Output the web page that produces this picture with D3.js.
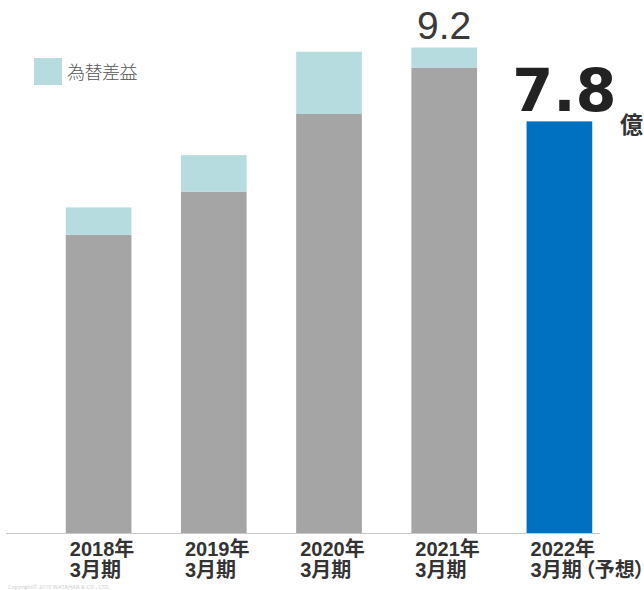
<!DOCTYPE html>
<html>
<head>
<meta charset="utf-8">
<script src="https://cdn.jsdelivr.net/npm/d3@7"></script>
<style>
  html, body { margin: 0; padding: 0; background: #fff; }
  svg { display: block; }
  .cat { font-feature-settings: "palt"; }
</style>
</head>
<body>
<svg id="chart" width="644" height="590"></svg>
<script>
// Fiscal periods (ending March) and label lines
const periods = ["2018", "2019", "2020", "2021", "2022"];
const labelLine1 = ["2018年", "2019年", "2020年", "2021年", "2022年"];
const labelLine2 = ["3月期", "3月期", "3月期", "3月期", "3月期（予想）"];

// Ordinary profit excluding forex gain, and forex gain (億円)
const baseValues = [5.65, 6.47, 7.94, 8.82, 7.8];
const forexValues = [0.52, 0.69, 1.18, 0.38, 0];
const isForecast = [false, false, false, false, true];

const legendLabel = "為替差益";
const unitLabel = "億";
const copyright = "Copyright© 2018 WATAHAN & CO., LTD.";

const svg = d3.select("#chart");

const x = d3.scaleBand()
  .domain(periods)
  .range([41, 617])
  .paddingInner(0.43)
  .paddingOuter(0.215);

const y = d3.scaleLinear()
  .domain([0, 9.2])
  .range([533, 47.5]);

const colBase = "#a5a5a5";
const colForex = "#b7dce0";
const colForecast = "#0070c0";

const data = periods.map((p, i) => ({
  p, base: baseValues[i], forex: forexValues[i], forecast: isForecast[i],
  l1: labelLine1[i], l2: labelLine2[i]
}));

// base bars
svg.append("g").selectAll("rect")
  .data(data)
  .join("rect")
  .attr("x", d => x(d.p))
  .attr("width", x.bandwidth())
  .attr("y", d => y(d.base))
  .attr("height", d => y(0) - y(d.base))
  .attr("fill", d => d.forecast ? colForecast : colBase);

// forex gain segments stacked on top
svg.append("g").selectAll("rect")
  .data(data.filter(d => d.forex > 0))
  .join("rect")
  .attr("x", d => x(d.p))
  .attr("width", x.bandwidth())
  .attr("y", d => y(d.base + d.forex))
  .attr("height", d => y(d.base) - y(d.base + d.forex))
  .attr("fill", colForex);

// baseline
svg.append("line")
  .attr("x1", 6).attr("x2", 600)
  .attr("y1", y(0) + 0.5).attr("y2", y(0) + 0.5)
  .attr("stroke", "#c8c8c8")
  .attr("stroke-width", 1);

// value label of the latest actual period
const last = data[3];
svg.append("text")
  .attr("x", x(last.p) + x.bandwidth() / 2)
  .attr("y", y(last.base + last.forex) - 9)
  .attr("text-anchor", "middle")
  .attr("font-family", "'Liberation Sans', sans-serif")
  .attr("font-weight", 400)
  .attr("font-size", 39)
  .attr("fill", "#3a3a3a")
  .text(d3.format(".1f")(last.base + last.forex));

// forecast value label
const fc = data[4];
svg.append("text")
  .attr("x", x(fc.p) + x.bandwidth() / 2 + 5)
  .attr("y", y(fc.base) - 10)
  .attr("text-anchor", "middle")
  .attr("font-family", "'DejaVu Sans', sans-serif")
  .attr("font-weight", 700)
  .attr("font-size", 59)
  .attr("fill", "#222")
  .text(d3.format(".1f")(fc.base));

svg.append("text")
  .attr("x", 620)
  .attr("y", y(fc.base) + 12)
  .attr("font-family", "'Noto Sans CJK JP', sans-serif")
  .attr("font-weight", 700)
  .attr("font-size", 23)
  .attr("fill", "#333")
  .text(unitLabel);

// legend
svg.append("rect")
  .attr("x", 34).attr("y", 58)
  .attr("width", 28).attr("height", 27)
  .attr("fill", colForex);
svg.append("text")
  .attr("x", 67).attr("y", 79)
  .attr("font-family", "'Noto Sans CJK JP', sans-serif")
  .attr("font-weight", 300)
  .attr("font-size", 18)
  .attr("fill", "#555")
  .attr("letter-spacing", -0.5)
  .text(legendLabel);

// category labels, two lines each
const lab = svg.append("g")
  .attr("class", "cat")
  .attr("font-family", "'Liberation Sans', 'Noto Sans CJK JP', sans-serif")
  .attr("font-weight", 700)
  .attr("font-size", 20)
  .attr("fill", "#333");
const catText = lab.selectAll("text")
  .data(data)
  .join("text")
  .attr("x", d => x(d.p) + 4)
  .attr("y", 556);
catText.append("tspan")
  .attr("x", d => x(d.p) + 4)
  .attr("y", 556)
  .text(d => d.l1);
catText.append("tspan")
  .attr("x", d => x(d.p) + 4)
  .attr("y", 577)
  // a little room before the opening bracket
  .attr("dx", d => d.l2.length > 3 ? "0 0 0 3 0 0 0" : null)
  .text(d => d.l2);

// footer
svg.append("text")
  .attr("x", 8).attr("y", 588.5)
  .attr("font-family", "'Open Sans', sans-serif")
  .attr("font-size", 5.5)
  .attr("fill", "#cbcbcb")
  .text(copyright);
</script>
</body>
</html>
